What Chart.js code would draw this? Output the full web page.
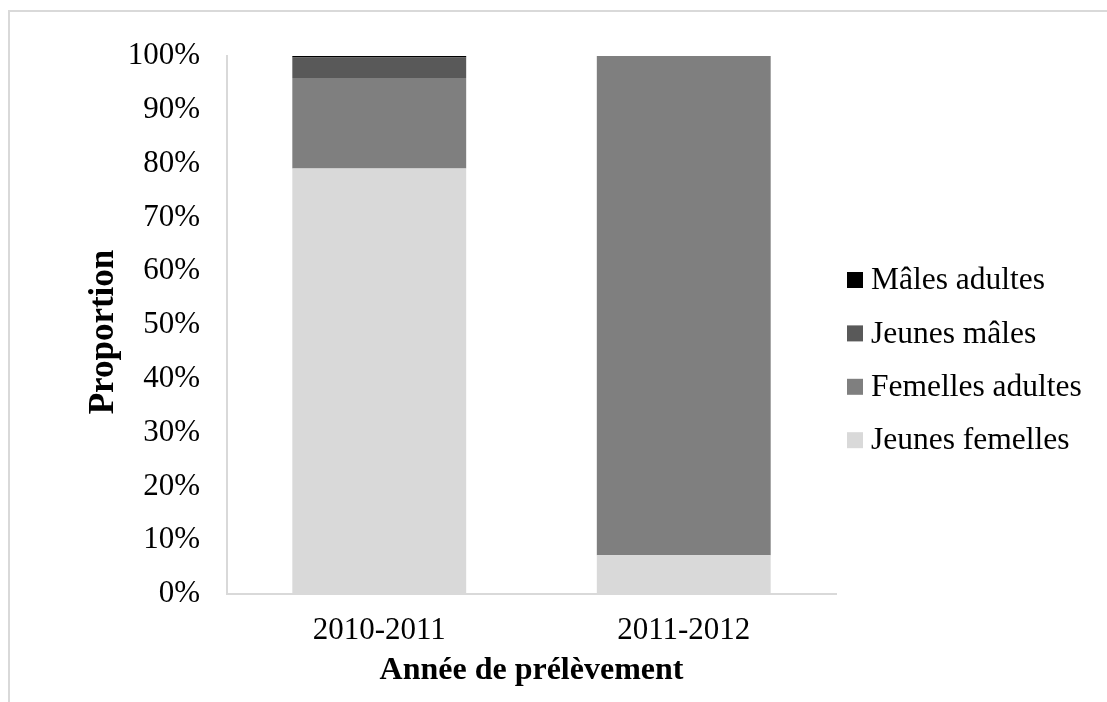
<!DOCTYPE html>
<html lang="fr">
<head>
<meta charset="utf-8">
<title>Proportion par année de prélèvement</title>
<script src="https://cdn.jsdelivr.net/npm/chart.js@4.4.1/dist/chart.umd.min.js"></script>
<style>
  html, body { margin: 0; padding: 0; background: #ffffff; }
  #wrap { position: relative; width: 1107px; height: 702px; }
  canvas { display: block; }
</style>
</head>
<body>
<div id="wrap"><canvas id="c" width="1107" height="702"></canvas></div>
<script>
// Sampling seasons
const categories = ['2010-2011', '2011-2012'];

// Share of each group (%) per season, stacked bottom to top
const jeunesFemelles  = [79.1, 7.2];
const femellesAdultes = [16.8, 92.8];
const jeunesMales     = [3.8, 0];
const malesAdultes    = [0.3, 0];

// Group names
const seriesNames = ['Jeunes femelles', 'Femelles adultes', 'Jeunes mâles', 'Mâles adultes'];

const SERIF = '"Liberation Serif", "Times New Roman", Times, serif';
const Y_TITLE = 'Proportion';

// Outer frame (top and left edges)
const framePlugin = {
  id: 'frame',
  beforeDraw(chart) {
    const ctx = chart.ctx;
    ctx.save();
    ctx.strokeStyle = '#d9d9d9';
    ctx.lineWidth = 2;
    ctx.beginPath();
    ctx.moveTo(9, 702);
    ctx.lineTo(9, 11);
    ctx.lineTo(1107, 11);
    ctx.stroke();
    ctx.restore();
  }
};

// Vertical value-axis title, placed beside the y scale
const yTitlePlugin = {
  id: 'yTitle',
  afterDraw(chart) {
    const ctx = chart.ctx;
    const area = chart.chartArea;
    ctx.save();
    ctx.translate(104, (area.top + area.bottom) / 2 + 7);
    ctx.rotate(-Math.PI / 2);
    ctx.font = 'bold 35px ' + SERIF;
    ctx.fillStyle = '#000000';
    ctx.textAlign = 'center';
    ctx.textBaseline = 'middle';
    ctx.fillText(Y_TITLE, 0, 0);
    ctx.restore();
  }
};

// Legend on the right, top series first
const sideLegend = {
  id: 'sideLegend',
  afterDraw(chart) {
    const ctx = chart.ctx;
    const items = chart.data.datasets.slice().reverse();
    const x0 = 847, box = 16, gap = 8, y0 = 280, step = 53.4;
    ctx.save();
    ctx.font = '31.5px ' + SERIF;
    ctx.textBaseline = 'middle';
    ctx.textAlign = 'left';
    items.forEach((ds, i) => {
      const y = y0 + i * step;
      ctx.fillStyle = ds.backgroundColor;
      ctx.fillRect(x0, y - box / 2, box, box);
      ctx.fillStyle = '#000000';
      ctx.fillText(ds.label, x0 + box + gap, y + 1);
    });
    ctx.restore();
  }
};

new Chart(document.getElementById('c'), {
  type: 'bar',
  data: {
    labels: categories,
    datasets: [
      { label: seriesNames[0], data: jeunesFemelles,  backgroundColor: '#d9d9d9' },
      { label: seriesNames[1], data: femellesAdultes, backgroundColor: '#7f7f7f' },
      { label: seriesNames[2], data: jeunesMales,     backgroundColor: '#595959' },
      { label: seriesNames[3], data: malesAdultes,    backgroundColor: '#000000' }
    ]
  },
  options: {
    responsive: false,
    animation: false,
    devicePixelRatio: 1,
    layout: { padding: { top: 56, right: 271, left: 0, bottom: 0 } },
    datasets: {
      bar: { categoryPercentage: 1.0, barPercentage: 0.571, borderWidth: 0 }
    },
    plugins: {
      legend: { display: false },
      tooltip: { enabled: false }
    },
    scales: {
      x: {
        stacked: true,
        grid: { display: false, drawTicks: false },
        border: { display: true, color: '#d9d9d9', width: 2 },
        ticks: { color: '#000000', font: { family: SERIF, size: 31 }, padding: 18 },
        title: {
          display: true,
          text: 'Année de prélèvement',
          color: '#000000',
          font: { family: SERIF, size: 32, weight: 'bold' },
          padding: { top: 0, bottom: 12 }
        },
        afterFit(scale) { scale.height = 108; }
      },
      y: {
        stacked: true,
        min: 0,
        max: 100,
        grid: { display: false, drawTicks: false },
        border: { display: true, color: '#d9d9d9', width: 2 },
        ticks: {
          stepSize: 10,
          color: '#000000',
          font: { family: SERIF, size: 31 },
          padding: 27,
          callback: (v) => v + '%'
        },
        afterFit(scale) { scale.width = 227; }
      }
    }
  },
  plugins: [framePlugin, yTitlePlugin, sideLegend]
});
</script>
</body>
</html>
